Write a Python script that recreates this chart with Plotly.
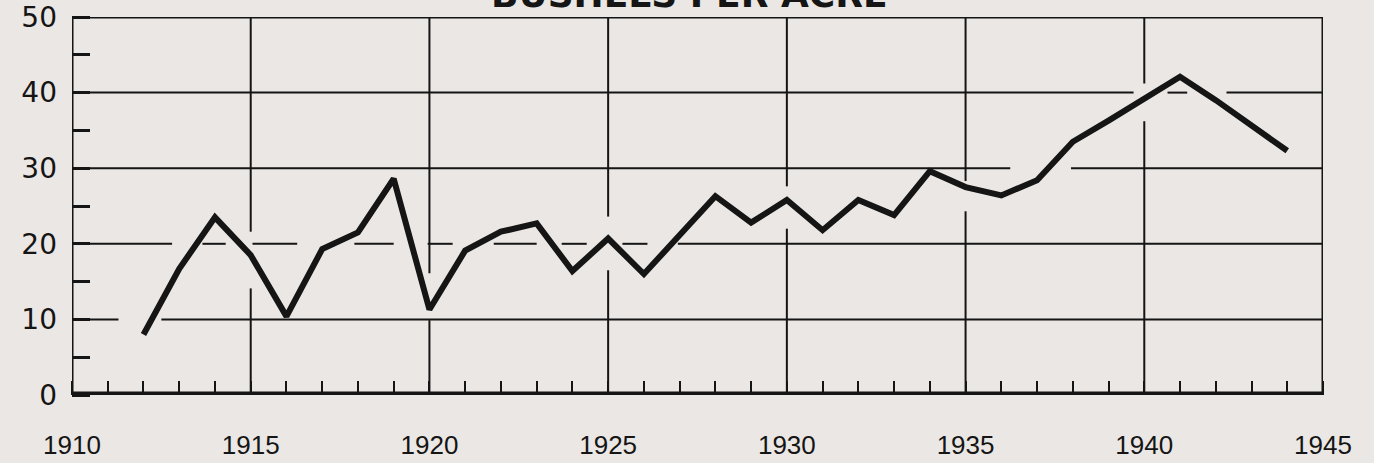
"""
Bushels per acre, 1912-1944: redrawn hand-lettered yield chart
"""

import plotly.graph_objects as go

years = list(range(1912, 1945))
bushels = [
    8.0, 16.7, 23.5, 18.5, 10.4, 19.3, 21.5, 28.6, 11.3, 19.1,
    21.6, 22.7, 16.4, 20.7, 16.0, 21.2, 26.3, 22.8, 25.8, 21.8,
    25.8, 23.8, 29.6, 27.5, 26.4, 28.4, 33.5, 36.3, 39.1, 42.1,
    39.0, 35.7, 32.3,
]
x_ticks = [1910, 1915, 1920, 1925, 1930, 1935, 1940, 1945]
y_ticks = [0, 10, 20, 30, 40, 50]

# hand-drawn grid: segments kept where the draftsman did not break the line
h_grid = {
    10: [(1910, 1911.3), (1912.5, 1945)],
    20: [(1910, 1912.8), (1913.65, 1914.3), (1915.05, 1916.3), (1917.9, 1919.0),
         (1919.95, 1920.65), (1921.8, 1923.0), (1923.7, 1924.4), (1925.4, 1926.1),
         (1926.95, 1945)],
    30: [(1910, 1936.25), (1937.95, 1945)],
    40: [(1910, 1939.7), (1940.65, 1941.2), (1942.3, 1945)],
}
v_grid = {
    1915: [(0, 14.1), (21.6, 50)],
    1920: [(0, 9.9), (16.1, 50)],
    1925: [(0, 16.5), (23.6, 50)],
    1930: [(0, 22.0), (27.6, 50)],
    1935: [(0, 24.3), (28.3, 50)],
    1940: [(0, 36.2), (41.2, 50)],
}

INK = "#151515"
PAPER = "#ebe7e4"

fig = go.Figure()

fig.add_trace(go.Scatter(
    x=years,
    y=bushels,
    mode="lines",
    line=dict(color=INK, width=6),
    showlegend=False,
    hoverinfo="skip",
))

shapes = []
for yv, segs in h_grid.items():
    for x0, x1 in segs:
        shapes.append(dict(type="line", xref="x", yref="y", x0=x0, x1=x1, y0=yv, y1=yv,
                           line=dict(color=INK, width=2), layer="below"))
for xv, segs in v_grid.items():
    for y0, y1 in segs:
        shapes.append(dict(type="line", xref="x", yref="y", x0=xv, x1=xv, y0=y0, y1=y1,
                           line=dict(color=INK, width=2), layer="below"))

# frame: thin top / sides, heavy zero line
shapes += [
    dict(type="line", xref="x", yref="y", x0=1910, x1=1945, y0=50, y1=50,
         line=dict(color=INK, width=3)),
    dict(type="line", xref="x", yref="y", x0=1910, x1=1910, y0=0, y1=50,
         line=dict(color=INK, width=3)),
    dict(type="line", xref="x", yref="y", x0=1945, x1=1945, y0=0, y1=50,
         line=dict(color=INK, width=3)),
    dict(type="line", xref="x", yref="y", x0=1910, x1=1945, y0=0, y1=0,
         line=dict(color=INK, width=7)),
]

fig.update_layout(
    width=1374,
    height=463,
    margin=dict(l=72, r=51, t=17, b=68),
    paper_bgcolor=PAPER,
    plot_bgcolor=PAPER,
    shapes=shapes,
    xaxis=dict(
        range=[1910, 1945],
        tickvals=x_ticks,
        ticktext=[str(v) for v in x_ticks],
        showgrid=False,
        zeroline=False,
        showline=False,
        automargin=False,
        ticks="",
        ticklabelstandoff=32,
        tickfont=dict(family="Liberation Sans", size=26, color=INK),
        minor=dict(dtick=1, tick0=1910, ticks="inside", ticklen=14, tickwidth=2,
                   tickcolor=INK, showgrid=False),
    ),
    yaxis=dict(
        range=[0, 50],
        tickvals=y_ticks,
        showgrid=False,
        zeroline=False,
        showline=False,
        automargin=False,
        ticks="",
        ticklabelstandoff=14,
        tickfont=dict(family="DejaVu Sans", size=28, color=INK),
        minor=dict(dtick=5, tick0=0, ticks="inside", ticklen=18, tickwidth=3,
                   tickcolor=INK, showgrid=False),
    ),
    annotations=[dict(
        text="<b>BUSHELS PER ACRE</b>",
        xref="paper", yref="paper",
        x=0.494, y=1.0,
        xanchor="center", yanchor="bottom",
        showarrow=False,
        font=dict(family="DejaVu Sans", size=36, color=INK),
    )],
)

fig.write_html(
    "out.html",
    config={"displayModeBar": False},
    post_script="document.body.style.margin = '0px';",
)
